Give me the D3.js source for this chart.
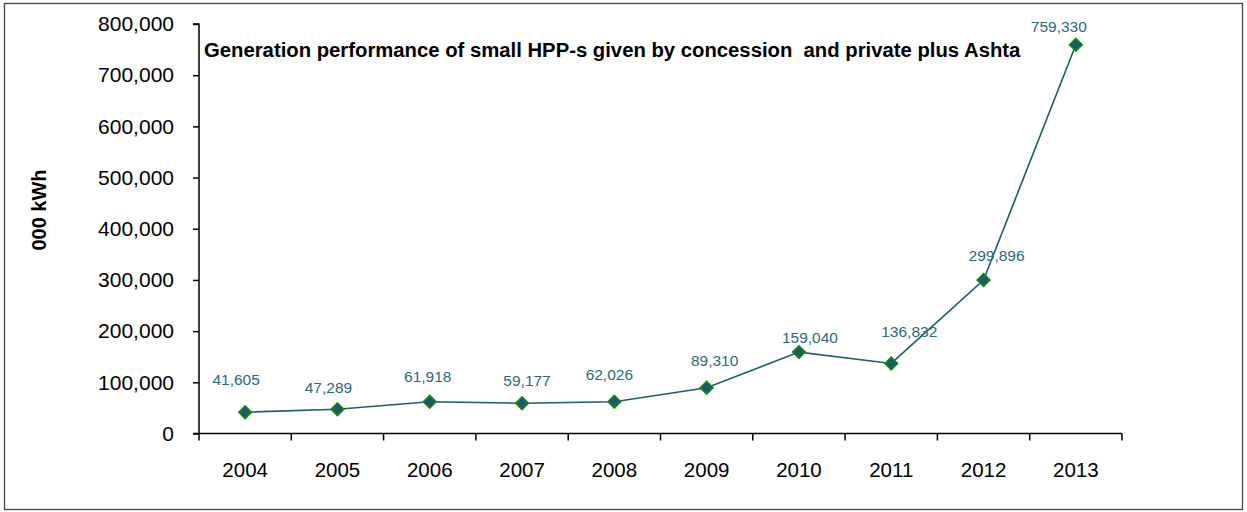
<!DOCTYPE html>
<html>
<head>
<meta charset="utf-8">
<script src="https://cdn.jsdelivr.net/npm/d3@7"></script>
<style>
  html, body { margin: 0; padding: 0; background: #fff; }
  svg { display: block; font-family: "Liberation Sans", Arial, sans-serif; }
</style>
</head>
<body>
<svg id="chart" width="1247" height="512"></svg>
<script>
// ---- data ----
const years = ["2004","2005","2006","2007","2008","2009","2010","2011","2012","2013"];
const generation = [41605, 47289, 61918, 59177, 62026, 89310, 159040, 136832, 299896, 759330];
const yTicks = [0, 100000, 200000, 300000, 400000, 500000, 600000, 700000, 800000];
const titleText = "Generation performance of small HPP-s given by concession  and private plus Ashta";
const yAxisTitle = "000 kWh";

// ---- layout (label nudges, px) ----
const labelDx = [-9, -9, -2, 5, -5, 8, 11, 18, 13, -17];
const labelDy = [-33, -22, -25, -23, -27, -27, -15, -32, -24, -18];

(function () {
const svg = d3.select("#chart");
const pLeft = 199, pRight = 1122, pTop = 24, pBottom = 433.5;

// frame
svg.append("rect")
  .attr("x", 4.5).attr("y", 3.5).attr("width", 1238).attr("height", 506)
  .attr("fill", "#fff").attr("stroke", "#444").attr("stroke-width", 1.3);

const x = d3.scaleBand().domain(years).range([pLeft, pRight]).paddingInner(0).paddingOuter(0);
const y = d3.scaleLinear().domain([0, 800000]).range([pBottom, pTop]);
const cx = d => x(d) + x.bandwidth() / 2;

// y axis
const yAxis = d3.axisLeft(y).tickValues(yTicks).tickSize(6).tickPadding(19)
  .tickFormat(d3.format(","));
const gy = svg.append("g").attr("transform", `translate(${pLeft},0)`).call(yAxis);
gy.select(".domain").attr("stroke", "#000").attr("stroke-width", 1.5).attr("d", `M-6,${pTop}H0V${pBottom}`);
gy.selectAll(".tick line").attr("stroke", "#000").attr("stroke-width", 1.5);
gy.selectAll(".tick text").attr("font-size", 21).attr("fill", "#000")
  .attr("font-family", "'Liberation Sans', Arial, sans-serif");

// x axis (ticks at category boundaries)
const gx = svg.append("g");
gx.append("line").attr("x1", pLeft - 6).attr("x2", pRight).attr("y1", pBottom).attr("y2", pBottom)
  .attr("stroke", "#000").attr("stroke-width", 1.5);
const boundaries = years.map(d => x(d)).concat([x(years[years.length - 1]) + x.bandwidth()]);
gx.selectAll("line.tick").data(boundaries).join("line").attr("class", "tick")
  .attr("x1", d => d).attr("x2", d => d).attr("y1", pBottom).attr("y2", pBottom + 7)
  .attr("stroke", "#000").attr("stroke-width", 1.5);
gx.selectAll("text").data(years).join("text")
  .attr("x", d => cx(d)).attr("y", pBottom + 43.5)
  .attr("text-anchor", "middle").attr("font-size", 20.5).attr("fill", "#000")
  .text(d => d);

// y axis title
svg.append("text")
  .attr("transform", "translate(39,210) rotate(-90)")
  .attr("text-anchor", "middle").attr("dominant-baseline", "central")
  .attr("font-size", 20).attr("font-weight", "bold").attr("fill", "#000")
  .text(yAxisTitle);

// title (fit to reference width)
const title = svg.append("text")
  .attr("x", 204).attr("y", 57)
  .attr("font-size", 16).attr("font-weight", "bold").attr("fill", "#000")
  .style("white-space", "pre")
  .text(titleText);
const tl = title.node().getComputedTextLength();
title.attr("font-size", (16 * 817 / tl).toFixed(2));

// line
const line = d3.line().x((d, i) => cx(years[i])).y(d => y(d));
svg.append("path").datum(generation)
  .attr("d", line).attr("fill", "none")
  .attr("stroke", "#1c5f6e").attr("stroke-width", 1.6);

// markers
svg.selectAll("path.marker").data(generation).join("path").attr("class", "marker")
  .attr("d", d3.symbol().type(d3.symbolSquare).size(80))
  .attr("transform", (d, i) => `translate(${cx(years[i])},${y(d)}) rotate(45)`)
  .attr("fill", "#1b5a68").attr("stroke", "#138a13").attr("stroke-width", 1.6);

// data labels
svg.selectAll("text.lbl").data(generation).join("text").attr("class", "lbl")
  .attr("x", (d, i) => cx(years[i]) + labelDx[i])
  .attr("y", (d, i) => y(d) + labelDy[i])
  .attr("text-anchor", "middle").attr("dominant-baseline", "central")
  .attr("font-size", 15.5).attr("fill", "#2b6b7a")
  .text(d => d3.format(",")(d));
})();
</script>
</body>
</html>
